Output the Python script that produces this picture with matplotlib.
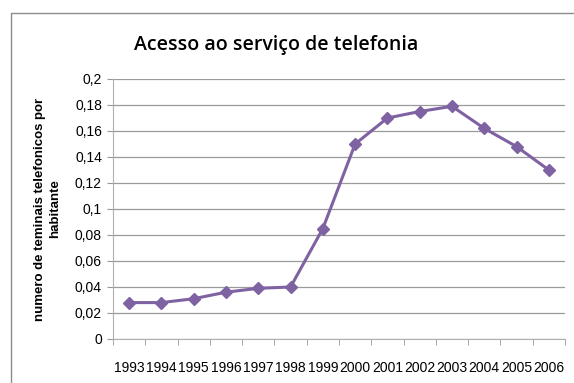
import matplotlib.pyplot as plt
from matplotlib.patches import Rectangle

# telephone terminals per inhabitant, 1993-2006
years = ['1993', '1994', '1995', '1996', '1997', '1998', '1999',
         '2000', '2001', '2002', '2003', '2004', '2005', '2006']
terminais = [0.028, 0.028, 0.031, 0.036, 0.039, 0.040, 0.085,
             0.150, 0.170, 0.175, 0.179, 0.162, 0.148, 0.130]
yticks = [0, 0.02, 0.04, 0.06, 0.08, 0.1, 0.12, 0.14, 0.16, 0.18, 0.2]

plt.rcParams['font.family'] = ['Liberation Sans Narrow', 'Liberation Sans', 'DejaVu Sans']

W, H = 574, 383
fig = plt.figure(figsize=(W / 100, H / 100), dpi=100)
fig.patch.set_facecolor('white')

# chart frame (runs off the right and bottom edges)
fig.patches.append(Rectangle((11 / W, -0.1), 1.2, (H - 13) / H + 0.1,
                             transform=fig.transFigure, fill=False,
                             edgecolor='#8c8c8c', linewidth=1.0))

ax = fig.add_axes([113 / W, (H - 339) / H, (565 - 113) / W, (339 - 79) / H])
x = range(len(years))
ax.plot(x, terminais, color='#7f62a1', linewidth=2.2, marker='D',
        markersize=6, markerfacecolor='#7f62a1', markeredgecolor='#7f62a1')

ax.set_xlim(-0.5, len(years) - 0.5)
ax.set_ylim(0, 0.2)
ax.set_yticks(yticks)
ax.set_yticklabels([('%g' % v).replace('.', ',') for v in yticks], fontsize=10)
ax.set_xticks(list(x))
ax.set_xticklabels(years, fontsize=10)
ax.set_xticks([i - 0.5 for i in range(len(years) + 1)], minor=True)
ax.tick_params(axis='x', which='major', length=0, pad=16)
ax.tick_params(axis='x', which='minor', length=4, color='#999999')
ax.tick_params(axis='y', length=4, color='#999999', pad=4)

ax.grid(axis='y', color='#9a9a9a', linewidth=0.9)
ax.set_axisbelow(True)
for side in ('top', 'right'):
    ax.spines[side].set_visible(False)
for side in ('left', 'bottom'):
    ax.spines[side].set_color('#b0b0b0')

ax.set_ylabel('numero de teminais telefonicos por\nhabitante', fontsize=9.5,
              fontweight='bold', labelpad=10, linespacing=1.3)

fig.text(276 / W, 1 - 45 / H, 'Acesso ao serviço de telefonia',
         ha='center', va='center', fontsize=14, fontweight='semibold',
         family=['Open Sans', 'DejaVu Sans'])

fig.savefig('out.png', dpi=100)
